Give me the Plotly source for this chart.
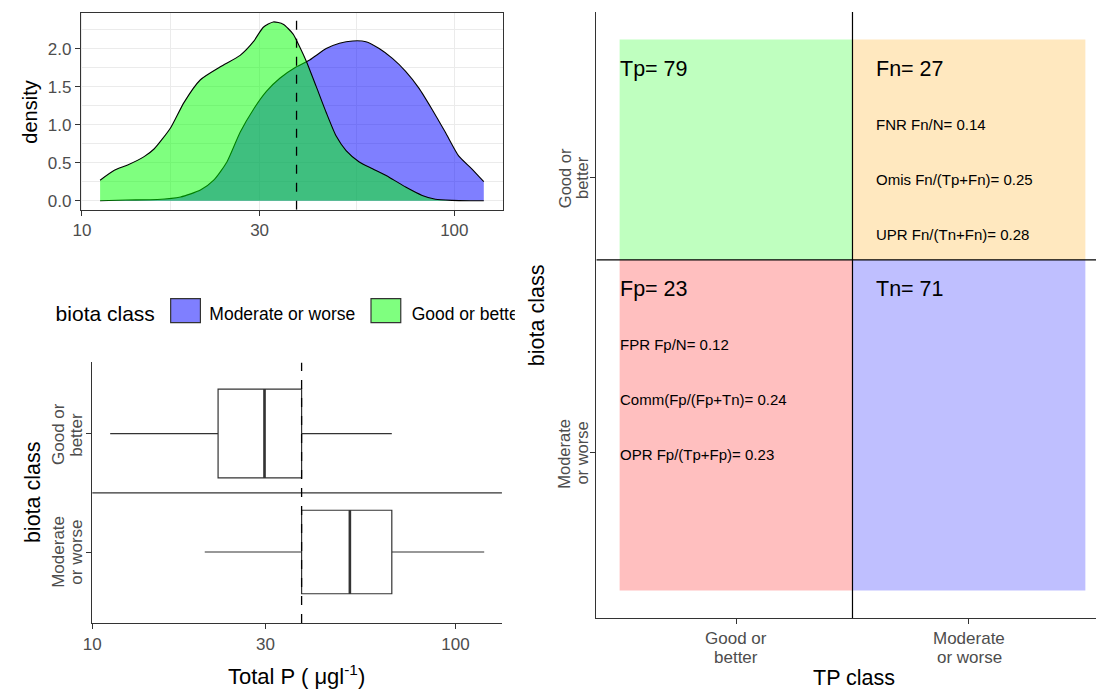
import plotly.graph_objects as go

W, H = 1096, 691
FONT = "Liberation Sans"
GREY = "#4D4D4D"
LINE = "#333333"

# ---- data -------------------------------------------------------------
# kernel density of Total P (log10 scale) for each biota class
tp_moderate = [11.19, 13.13, 15.95, 18.40, 20.81, 22.59, 24.51, 26.60, 28.87, 31.33,
               34.00, 37.67, 40.89, 45.29, 49.15, 53.35, 57.89, 62.84, 68.20, 74.01,
               80.33, 87.18, 94.62, 102.7, 111.4, 120.0]
dens_moderate = [0.0, 0.01, 0.017, 0.05, 0.14, 0.27, 0.51, 0.90, 1.20, 1.44,
                 1.61, 1.76, 1.85, 2.00, 2.07, 2.10, 2.09, 2.00, 1.87, 1.70,
                 1.48, 1.20, 0.90, 0.59, 0.42, 0.25]

tp_good = [11.19, 12.22, 13.27, 14.69, 15.62, 17.31, 18.79, 20.81, 23.53, 26.60,
           28.87, 30.70, 32.65, 34.71, 36.92, 38.46, 40.07, 42.59, 45.29, 48.17,
           51.21, 55.56, 60.31, 66.83, 74.01, 82.00, 88.98, 98.58, 110.3, 120.0]
dens_good = [0.27, 0.40, 0.47, 0.58, 0.68, 0.96, 1.29, 1.59, 1.76, 1.91,
             2.09, 2.28, 2.35, 2.32, 2.19, 2.02, 1.83, 1.50, 1.16, 0.85,
             0.66, 0.51, 0.42, 0.31, 0.18, 0.07, 0.02, 0.005, 0.0, 0.0]

# TP class boundary (ug/l)
tp_threshold = 37.7

# boxplot summaries per biota class
box_classes = ["Good or better", "Moderate or worse"]
box_pos = [2, 1]
box_width = [0.75, 0.705]
box_lower = [11.2, 20.4]
box_q1 = [22.2, 37.7]
box_median = [29.8, 51.2]
box_q3 = [37.7, 66.8]
box_upper = [66.8, 120.0]

# confusion counts (biota class vs TP class)
Tp, Fn, Fp, Tn = 79, 27, 23, 71
N = Tp + Fn + Fp + Tn

# tile extents on the discrete axes: TP class (x) and biota class (y)
tile_x0 = [0.5, 1.5, 0.5, 1.5]
tile_x1 = [1.5, 2.5, 1.5, 2.5]
tile_y0 = [1.7, 1.7, 0.5, 0.5]
tile_y1 = [2.5, 2.5, 1.7, 1.7]
tile_col = ["rgba(0,255,0,0.25)", "rgba(255,165,0,0.25)",
            "rgba(255,0,0,0.25)", "rgba(0,0,255,0.25)"]


def px(x):
    return x / W


def py(y):
    return 1 - y / H


fig = go.Figure()

# ---- density panel ------------------------------------------------------
fig.add_trace(go.Scatter(x=tp_moderate, y=dens_moderate, mode="lines", fill="tozeroy",
                         fillcolor="rgba(0,0,255,0.5)",
                         line=dict(color="black", width=1.1, shape="spline", smoothing=0.6),
                         xaxis="x", yaxis="y", showlegend=False, hoverinfo="skip"))
fig.add_trace(go.Scatter(x=tp_good, y=dens_good, mode="lines", fill="tozeroy",
                         fillcolor="rgba(0,255,0,0.5)",
                         line=dict(color="black", width=1.1, shape="spline", smoothing=0.6),
                         xaxis="x", yaxis="y", showlegend=False, hoverinfo="skip"))
dens_yr = [-0.1175, 2.4675]
fig.add_trace(go.Scatter(x=[tp_threshold, tp_threshold], y=dens_yr, mode="lines",
                         line=dict(color="black", width=1.3, dash="dash"),
                         xaxis="x", yaxis="y", showlegend=False, hoverinfo="skip"))

# ---- boxplot panel ------------------------------------------------------
for i in range(2):
    fig.add_trace(go.Box(y=[box_pos[i]], q1=[box_q1[i]], median=[box_median[i]], q3=[box_q3[i]],
                         lowerfence=[box_lower[i]], upperfence=[box_upper[i]],
                         orientation="h", width=box_width[i], whiskerwidth=0,
                         fillcolor="white", line=dict(color=LINE, width=1.2),
                         boxpoints=False, xaxis="x2", yaxis="y2", showlegend=False,
                         hoverinfo="skip"))
    fig.add_trace(go.Scatter(x=[box_median[i], box_median[i]],
                             y=[box_pos[i] - box_width[i] / 2, box_pos[i] + box_width[i] / 2],
                             mode="lines", line=dict(color=LINE, width=2.6),
                             xaxis="x2", yaxis="y2", showlegend=False, hoverinfo="skip"))
fig.add_trace(go.Scatter(x=[1, 1000], y=[1.5, 1.5], mode="lines", line=dict(color=LINE, width=1.3),
                         xaxis="x2", yaxis="y2", showlegend=False, hoverinfo="skip"))
fig.add_trace(go.Scatter(x=[tp_threshold, tp_threshold], y=[0.4, 2.6], mode="lines",
                         line=dict(color="black", width=1.3, dash="dash"),
                         xaxis="x2", yaxis="y2", showlegend=False, hoverinfo="skip"))

# ---- legend strip (clipped at the column edge) --------------------------
leg_items = ["Moderate or worse", "Good or better"]
leg_fill = ["rgba(0,0,255,0.5)", "rgba(0,255,0,0.5)"]
leg_key_x = [163, 365]
leg_text_x = [202, 406]
fig.add_trace(go.Scatter(x=[47], y=[316], mode="text", text=["biota class"], textposition="middle right",
                         textfont=dict(family=FONT, size=21, color="black"), cliponaxis=True,
                         xaxis="x3", yaxis="y3", showlegend=False, hoverinfo="skip"))
fig.add_trace(go.Scatter(x=leg_text_x, y=[316, 316], mode="text", text=leg_items, textposition="middle right",
                         textfont=dict(family=FONT, size=17.5, color="black"), cliponaxis=True,
                         xaxis="x3", yaxis="y3", showlegend=False, hoverinfo="skip"))

shapes = []
for kx, kc in zip(leg_key_x, leg_fill):
    shapes.append(dict(type="rect", xref="x3", yref="y3", x0=kx, x1=kx + 30, y0=299, y1=323,
                       fillcolor=kc, line=dict(color="#333333", width=1.2)))

# ---- confusion panel ----------------------------------------------------
for x0, x1, y0, y1, c in zip(tile_x0, tile_x1, tile_y0, tile_y1, tile_col):
    shapes.append(dict(type="rect", xref="x4", yref="y4", x0=x0, x1=x1, y0=y0, y1=y1,
                       fillcolor=c, line=dict(width=0), layer="below"))
shapes.append(dict(type="line", xref="x4", yref="y4", x0=1.5, x1=1.5, y0=0.4, y1=2.6,
                   line=dict(color="black", width=1.2)))
shapes.append(dict(type="line", xref="x4", yref="y4", x0=0.4, x1=2.6, y0=1.7, y1=1.7,
                   line=dict(color="black", width=1.2)))

cm_big = [(0.5, 2.4, f"Tp= {Tp}"), (1.6, 2.4, f"Fn= {Fn}"),
          (0.5, 1.6, f"Fp= {Fp}"), (1.6, 1.6, f"Tn= {Tn}")]
cm_small = [(1.6, 2.2, f"FNR Fn/N= {Fn / N:.2f}"),
            (1.6, 2.0, f"Omis Fn/(Tp+Fn)= {Fn / (Tp + Fn):.2f}"),
            (1.6, 1.8, f"UPR Fn/(Tn+Fn)= {Fn / (Tn + Fn):.2f}"),
            (0.5, 1.4, f"FPR Fp/N= {Fp / N:.2f}"),
            (0.5, 1.2, f"Comm(Fp/(Fp+Tn)= {Fp / (Fp + Tn):.2f}"),
            (0.5, 1.0, f"OPR Fp/(Tp+Fp)= {Fp / (Tp + Fp):.2f}")]

ann = []
for x, y, t in cm_big:
    ann.append(dict(x=x, y=y, xref="x4", yref="y4", text=t, showarrow=False, xanchor="left",
                    yanchor="middle", yshift=-2, xshift=-2,
                    font=dict(family=FONT, size=21.5, color="black")))
for x, y, t in cm_small:
    ann.append(dict(x=x, y=y, xref="x4", yref="y4", text=t, showarrow=False, xanchor="left",
                    yanchor="middle", yshift=-2, xshift=-2,
                    font=dict(family=FONT, size=15, color="black")))


def label(x, y, text, size=20, color="black", angle=0):
    ann.append(dict(x=px(x), y=py(y), xref="paper", yref="paper", text=text, showarrow=False,
                    xanchor="center", yanchor="middle", textangle=angle,
                    font=dict(family=FONT, size=size, color=color)))


# axis titles
label(21, 112, "density", 20, angle=-90)
label(24, 493, "biota class", 21.5, angle=-90)
label(290, 676, "Total P ( μgl<sup>-1</sup>)", 22)
label(532, 316, "biota class", 21.5, angle=-90)
label(852, 679, "TP class", 21.5)

# category labels (two-line, set line by line)
label(50, 435, "Good or", 17, GREY, -90)
label(68, 435, "better", 17, GREY, -90)
label(50, 553, "Moderate", 17, GREY, -90)
label(68, 553, "or worse", 17, GREY, -90)
label(560, 178, "Good or", 16.5, GREY, -90)
label(577, 178, "better", 16.5, GREY, -90)
label(560, 454, "Moderate", 16.5, GREY, -90)
label(578, 454, "or worse", 16.5, GREY, -90)
label(733, 639, "Good or", 17, GREY)
label(733, 658, "better", 17, GREY)
label(968, 639, "Moderate", 17, GREY)
label(968, 658, "or worse", 17, GREY)

tickfont = dict(family=FONT, size=17, color=GREY)
grid = "#EBEBEB"

fig.update_layout(
    width=W, height=H, autosize=False,
    margin=dict(l=0, r=0, t=0, b=0),
    paper_bgcolor="white", plot_bgcolor="white",
    shapes=shapes, annotations=ann,
    xaxis=dict(domain=[px(72.5), px(498)], type="log", range=[0.9973, 2.1305],
               tickmode="array", tickvals=[10, 30, 100], ticktext=["10", "30", "100"],
               showgrid=True, gridcolor=grid, gridwidth=1.1,
               minor=dict(tickmode="array", tickvals=[17.32, 54.77], showgrid=True,
                          gridcolor=grid, gridwidth=0.6, ticks=""),
               showline=True, linecolor=LINE, linewidth=1.1, mirror=True,
               ticks="outside", ticklen=5, tickcolor=LINE, tickfont=tickfont,
               zeroline=False, anchor="y"),
    yaxis=dict(domain=[py(210), py(13)], range=dens_yr,
               tickmode="array", tickvals=[0, 0.5, 1, 1.5, 2], ticktext=["0.0", "0.5", "1.0", "1.5", "2.0"],
               showgrid=True, gridcolor=grid, gridwidth=1.1,
               minor=dict(tickmode="array", tickvals=[0.25, 0.75, 1.25, 1.75, 2.25], showgrid=True,
                          gridcolor=grid, gridwidth=0.6, ticks=""),
               showline=True, linecolor=LINE, linewidth=1.1, mirror=True,
               ticks="outside", ticklen=5, tickcolor=LINE, tickfont=tickfont,
               zeroline=False, anchor="x"),
    xaxis2=dict(domain=[px(84), px(497)], type="log", range=[1.0, 2.128],
                tickmode="array", tickvals=[10, 30, 100], ticktext=["10", "30", "100"],
                showgrid=False, showline=True, linecolor=LINE, linewidth=1.3,
                ticks="outside", ticklen=5, tickcolor=LINE, tickfont=tickfont,
                zeroline=False, anchor="y2"),
    yaxis2=dict(domain=[py(624), py(363)], range=[0.4, 2.6],
                tickmode="array", tickvals=box_pos, showticklabels=False,
                showgrid=False, showline=True, linecolor=LINE, linewidth=1.3,
                ticks="outside", ticklen=5, tickcolor=LINE,
                zeroline=False, anchor="x2"),
    xaxis3=dict(domain=[0, px(510)], range=[0, 510], visible=False, fixedrange=True, anchor="y3"),
    yaxis3=dict(domain=[py(345), py(285)], range=[345, 285], visible=False, fixedrange=True, anchor="x3"),
    xaxis4=dict(domain=[px(592.2), 1], range=[0.4, 2.5457],
                tickmode="array", tickvals=[1, 2], showticklabels=False,
                showgrid=False, showline=True, linecolor=LINE, linewidth=1.3,
                ticks="outside", ticklen=5, tickcolor=LINE,
                zeroline=False, anchor="y4"),
    yaxis4=dict(domain=[py(619), py(12)], range=[0.4, 2.6],
                tickmode="array", tickvals=[1, 2], showticklabels=False,
                showgrid=False, showline=True, linecolor=LINE, linewidth=1.3,
                ticks="outside", ticklen=5, tickcolor=LINE,
                zeroline=False, anchor="x4"),
)

fig.write_html("out.html")
